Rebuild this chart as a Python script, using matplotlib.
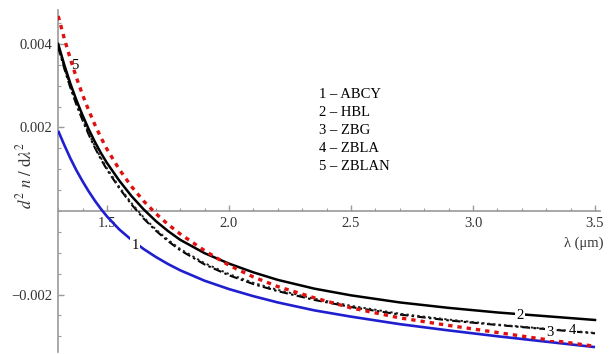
import matplotlib
matplotlib.use("Agg")
import matplotlib.pyplot as plt
from matplotlib.ticker import MultipleLocator, FixedLocator

# Wavelength grid (µm) and second derivative of refractive index for each glass
wavelength = [1.300, 1.325, 1.350, 1.375, 1.400, 1.425, 1.450, 1.475, 1.500, 1.550,
              1.600, 1.650, 1.700, 1.750, 1.800, 1.900, 2.000, 2.100, 2.200, 2.350,
              2.500, 2.700, 2.900, 3.100, 3.300, 3.500]

abcy = [0.00192, 0.00158, 0.00126, 0.00097, 0.00071, 0.00047, 0.00025, 0.00005,
        -0.00013, -0.00044, -0.00069, -0.00091, -0.00110, -0.00127, -0.00142,
        -0.00167, -0.00187, -0.00204, -0.00219, -0.00238, -0.00253, -0.00271,
        -0.00286, -0.00300, -0.00313, -0.00326]

hbl = [0.00400, 0.00350, 0.00305, 0.00265, 0.00229, 0.00196, 0.00166, 0.00139,
       0.00115, 0.00073, 0.00036, 0.00004, -0.00024, -0.00048, -0.00069,
       -0.00101, -0.00126, -0.00147, -0.00165, -0.00186, -0.00202, -0.00219,
       -0.00232, -0.00243, -0.00252, -0.00261]

zbg = [0.00392, 0.00341, 0.00295, 0.00254, 0.00217, 0.00183, 0.00152, 0.00124,
       0.00099, 0.00055, 0.00016, -0.00018, -0.00047, -0.00072, -0.00094,
       -0.00128, -0.00154, -0.00175, -0.00192, -0.00213, -0.00230, -0.00248,
       -0.00262, -0.00273, -0.00283, -0.00293]

zbla = [0.00395, 0.00344, 0.00298, 0.00257, 0.00220, 0.00186, 0.00155, 0.00127,
        0.00102, 0.00058, 0.00019, -0.00015, -0.00044, -0.00069, -0.00091,
        -0.00125, -0.00151, -0.00172, -0.00189, -0.00210, -0.00227, -0.00246,
        -0.00260, -0.00272, -0.00282, -0.00292]

zblan = [0.00467, 0.00413, 0.00364, 0.00319, 0.00278, 0.00241, 0.00207, 0.00176,
         0.00148, 0.00100, 0.00059, 0.00024, -0.00006, -0.00032, -0.00055,
         -0.00095, -0.00130, -0.00158, -0.00181, -0.00208, -0.00232, -0.00256,
         -0.00274, -0.00291, -0.00308, -0.00324]

legend_lines = ["1 \u2013 ABCY", "2 \u2013 HBL", "3 \u2013 ZBG", "4 \u2013 ZBLA", "5 \u2013 ZBLAN"]
x_ticks = [1.5, 2.0, 2.5, 3.0, 3.5]
x_tick_labels = ["1.5", "2.0", "2.5", "3.0", "3.5"]
y_ticks = [-0.002, 0.002, 0.004]
y_tick_labels = ["\u22120.002", "0.002", "0.004"]

plt.rcParams["font.family"] = ["Liberation Serif", "DejaVu Serif"]
plt.rcParams["mathtext.fontset"] = "stix"

X0, PX_PER_UM = 1.2992, 244.0      # plot x-origin and horizontal scale
Y_PX_PER_UNIT = 41750.0            # vertical scale, y=0 at pixel row 211


def px_to_x(px):
    return X0 + (px - 58) / PX_PER_UM


def px_to_y(py):
    return (211 - py) / Y_PX_PER_UNIT


fig = plt.figure(figsize=(6.10, 3.54), dpi=100)
ax = fig.add_axes([58 / 610, 2 / 354, 542 / 610, 342 / 354])
ax.set_xlim(1.2992, 3.5205)
ax.set_ylim(-0.003377, 0.004814)

axis_grey = "#9a9a9a"
ax.plot(wavelength, abcy, color="#1f1fd0", lw=1.9, solid_capstyle="butt", zorder=3)
ax.plot(wavelength, hbl, color="black", lw=1.8, zorder=4)
ax.plot(wavelength, zbg, color="black", lw=1.5, dashes=(4, 1.6, 1.2, 1.6), zorder=3)
ax.plot(wavelength, zbla, color="#222222", lw=1.4, dashes=(1.2, 1.6), zorder=3)
ax.plot(wavelength, zblan, color="#e01010", lw=2.4, dashes=(1.3, 1.5), zorder=5)

# axes crossing at the origin of the plotted range
for side in ("top", "right"):
    ax.spines[side].set_visible(False)
ax.spines["left"].set_position(("data", 1.3))
ax.spines["bottom"].set_position(("data", 0.0))
for side in ("left", "bottom"):
    ax.spines[side].set_color(axis_grey)
    ax.spines[side].set_linewidth(1.2)
    ax.spines[side].set_zorder(1)

ax.xaxis.set_major_locator(FixedLocator(x_ticks))
ax.set_xticklabels(x_tick_labels)
ax.xaxis.set_minor_locator(MultipleLocator(0.1))
ax.yaxis.set_major_locator(FixedLocator(y_ticks))
ax.set_yticklabels(y_tick_labels)
ax.yaxis.set_minor_locator(MultipleLocator(0.0005))
ax.tick_params(which="both", direction="in", color=axis_grey, labelsize=10.5,
               labelcolor="#333333")
ax.tick_params(which="major", length=4, width=1)
ax.tick_params(which="minor", length=2.5, width=0.8)
ax.tick_params(axis="x", pad=4)
ax.tick_params(axis="y", pad=4)

ax.text(3.535, -0.00078, "\u03bb (\u03bcm)", ha="right", va="center",
        fontsize=10.5, color="#333333", clip_on=False)
fig.text(25 / 610, 1 - 175 / 354, r"$d^2\ n\ /\ \mathrm{d}\lambda^2$", rotation=90,
         ha="center", va="center", fontsize=12, color="#333333")

for i, line in enumerate(legend_lines):
    ax.text(px_to_x(319), px_to_y(95 + 18 * i), line,
            ha="left", va="center", fontsize=10.5, color="black")

# curve labels, breaking the line where they sit
white_box = dict(facecolor="white", edgecolor="none", pad=1.0)
ax.text(px_to_x(75), px_to_y(66), "5", ha="center", va="center", fontsize=10.5)
ax.text(px_to_x(135), px_to_y(245), "1", ha="center", va="center",
        fontsize=10.5, bbox=white_box, zorder=6)
ax.text(px_to_x(520), px_to_y(315), "2", ha="center", va="center",
        fontsize=10.5, bbox=white_box, zorder=6)
ax.text(px_to_x(550), px_to_y(332), "3", ha="center", va="center",
        fontsize=10.5, bbox=white_box, zorder=6)
ax.text(px_to_x(572), px_to_y(330), "4", ha="center", va="center",
        fontsize=10.5, bbox=white_box, zorder=6)

fig.savefig("out.png", dpi=100)
